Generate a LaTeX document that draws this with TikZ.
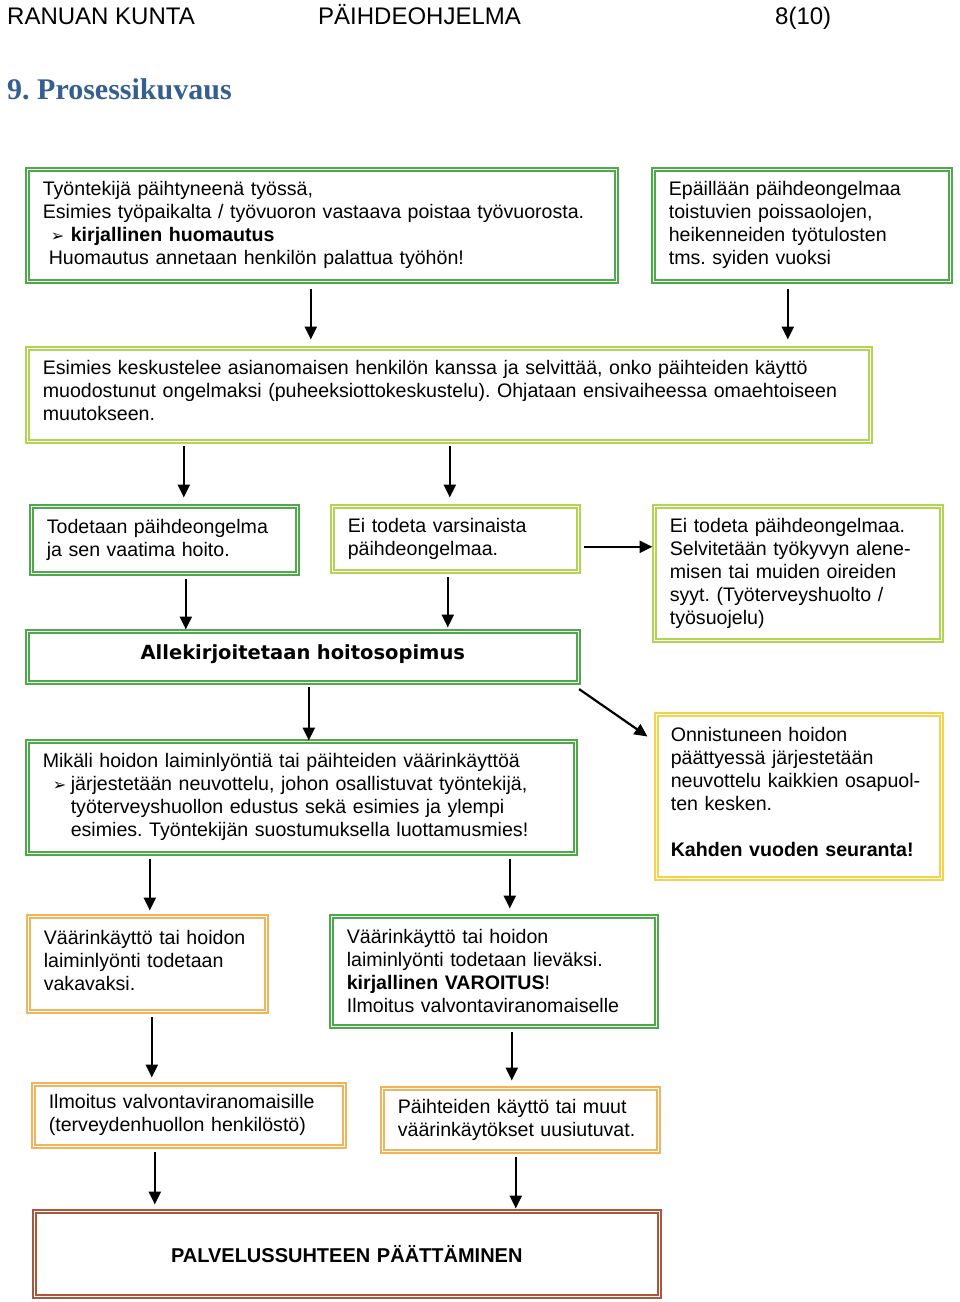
\documentclass[tikz,border=0pt]{standalone}
\usepackage{fontspec}
\setmainfont{Liberation Sans}
\newfontfamily\dingfont{DejaVu Sans}
\newfontfamily\titlefont{Liberation Serif}
\usetikzlibrary{arrows.meta}
\frenchspacing
\hyphenpenalty=10000
\exhyphenpenalty=10000
\definecolor{darkg}{HTML}{4FA84A}
\definecolor{lightg}{HTML}{B3D453}
\definecolor{orangec}{HTML}{F2B35A}
\definecolor{yellowc}{HTML}{F5D348}
\definecolor{brownc}{HTML}{A9583E}
\definecolor{titleblue}{HTML}{365F91}
\newcommand{\pointer}[1]{\makebox[#1][l]{\dingfont\fontsize{16}{16}\selectfont ➢}}
\newcommand{\liftup}[1]{\\[#1]\mbox{}}
\tikzset{
  box/.style={double=white, line width=1.6pt, double distance=1.4pt, anchor=north west,
    inner xsep=15.5pt, inner ysep=0pt, align=left, font=\fontsize{19.6}{23}\selectfont},
  gbox/.style={box, draw=darkg},
  lbox/.style={box, draw=lightg},
  obox/.style={box, draw=orangec},
  ybox/.style={box, draw=yellowc},
  bbox/.style={box, draw=brownc},
  flow/.style={-{Triangle[length=13pt,width=12pt]}, line width=2.2pt},
  headtext/.style={anchor=base west, inner sep=0pt, font=\fontsize{24}{28}\selectfont},
}

\begin{document}
\begin{tikzpicture}[x=1pt, y=-1pt]
\useasboundingbox (0,0) rectangle (960,1302);
\fill[white] (0,0) rectangle (960,1302);
% header
\node[headtext] (kunta) at (7,24) {RANUAN KUNTA};
\node[headtext] (ohjelma) at (318,24) {PÄIHDEOHJELMA};
\node[headtext] (sivu) at (775,24) {8(10)};
\node[anchor=base west, inner sep=0pt, text=titleblue, font=\titlefont\bfseries\fontsize{30}{34}\selectfont] (otsikko) at (7,99) {9. Prosessikuvaus};
% boxes
\node[gbox, minimum width=589pt, minimum height=112pt, text width=558pt] (b1) at (26.5,168.5) {Työntekijä päihtyneenä työssä,\\
Esimies työpaikalta / työvuoron vastaava poistaa työvuorosta.\\
\hspace*{8pt}\pointer{20pt}\textbf{kirjallinen huomautus}\\
\hspace*{6pt}Huomautus annetaan henkilön palattua työhön!};
\node[gbox, minimum width=297pt, minimum height=112pt, text width=266pt] (b2) at (652.5,168.5) {Epäillään päihdeongelmaa\\
toistuvien poissaolojen,\\
heikenneiden työtulosten\\
tms. syiden vuoksi};
\node[lbox, minimum width=843pt, minimum height=93pt, text width=812pt] (b3) at (26.5,347.5) {Esimies keskustelee asianomaisen henkilön kanssa ja selvittää, onko päihteiden käyttö\\
muodostunut ongelmaksi (puheeksiottokeskustelu). Ohjataan ensivaiheessa omaehtoiseen\\
muutokseen.\liftup{-15pt}};
\node[gbox, minimum width=266pt, minimum height=67pt, text width=235pt] (b4) at (30.5,505.5) {Todetaan päihdeongelma\\
ja sen vaatima hoito.};
\node[lbox, minimum width=246pt, minimum height=65pt, text width=215pt] (b5) at (331.5,505.5) {Ei todeta varsinaista\\
päihdeongelmaa.};
\node[lbox, minimum width=287pt, minimum height=134pt, text width=256pt] (b6) at (653.5,505.5) {Ei todeta päihdeongelmaa.\\
Selvitetään työkyvyn alene-\\
misen tai muiden oireiden\\
syyt. (Työterveyshuolto /\\
työsuojelu)};
\node[gbox, align=center, minimum width=551pt, minimum height=51pt, text width=520pt,
  font=\dingfont\bfseries\fontsize{19.5}{23}\selectfont] (b7) at (26.5,630.5) {Allekirjoitetaan hoitosopimus\liftup{-13pt}};
\node[gbox, minimum width=548pt, minimum height=112pt, text width=517pt] (b8) at (26.5,740.5) {Mikäli hoidon laiminlyöntiä tai päihteiden väärinkäyttöä\\
\hspace*{10pt}\pointer{18pt}järjestetään neuvottelu, johon osallistuvat työntekijä,\\
\hspace*{28pt}työterveyshuollon edustus sekä esimies ja ylempi\\
\hspace*{28pt}esimies. Työntekijän suostumuksella luottamusmies!};
\node[ybox, inner xsep=14.5pt, minimum width=285pt, minimum height=164pt, text width=256pt] (b9) at (655.5,713.5) {Onnistuneen hoidon\\
päättyessä järjestetään\\
neuvottelu kaikkien osapuol-\\
ten kesken.\\[23pt]
\textbf{Kahden vuoden seuranta!}\liftup{-15pt}};
\node[obox, minimum width=238pt, minimum height=95pt, text width=207pt] (b10) at (27.5,915.5) {Väärinkäyttö tai hoidon\\
laiminlyönti todetaan\\
vakavaksi.\liftup{-17pt}};
\node[gbox, minimum width=325pt, minimum height=110pt, text width=294pt] (b11) at (330.5,915.5) {Väärinkäyttö tai hoidon\\
laiminlyönti todetaan lieväksi.\\
\textbf{kirjallinen VAROITUS}!\\
Ilmoitus valvontaviranomaiselle};
\node[obox, minimum width=311pt, minimum height=62pt, text width=280pt] (b12) at (32.5,1083.5) {Ilmoitus valvontaviranomaisille\\
(terveydenhuollon henkilöstö)};
\node[obox, minimum width=276pt, minimum height=63pt, text width=245pt] (b13) at (381.5,1087.5) {Päihteiden käyttö tai muut\\
väärinkäytökset uusiutuvat.};
\node[bbox, align=center, minimum width=625pt, minimum height=85pt, text width=594pt,
  font=\bfseries\fontsize{20}{23}\selectfont] (b14) at (33.5,1210.5) {PALVELUSSUHTEEN PÄÄTTÄMINEN};
% connectors
\draw[flow] ([xshift=-11pt,yshift=-7pt]b1.south) coordinate (a1) -- ([yshift=8pt]b3.north -| a1);
\draw[flow] ([xshift=-14pt,yshift=-7pt]b2.south) coordinate (a2) -- ([yshift=8pt]b3.north -| a2);
\draw[flow] ([xshift=-265pt,yshift=-4pt]b3.south) coordinate (a3) -- ([yshift=8pt]b4.north -| a3);
\draw[flow] ([xshift=1pt,yshift=-4pt]b3.south) coordinate (a4) -- ([yshift=8pt]b5.north -| a4);
\draw[flow] ([xshift=5pt,yshift=-8pt]b5.east) coordinate (a5) -- ([xshift=-1pt]b6.west |- a5);
\draw[flow] ([xshift=21.5pt,yshift=-5pt]b4.south) coordinate (a6) -- ([yshift=1pt]b7.north -| a6);
\draw[flow] ([xshift=-7.5pt,yshift=-5pt]b5.south) coordinate (a7) -- ([yshift=3pt]b7.north -| a7);
\draw[flow] ([xshift=6pt,yshift=-4pt]b7.south) coordinate (a8) -- (b8.north -| a8);
\draw[flow] ([yshift=-6pt]b7.south east) -- ([xshift=-8pt,yshift=-23pt]b9.north west);
\draw[flow] ([xshift=-151.5pt,yshift=-5pt]b8.south) coordinate (a9) -- ([yshift=5pt]b10.north -| a9);
\draw[flow] ([xshift=208.5pt,yshift=-5pt]b8.south) coordinate (a10) -- ([yshift=7pt]b11.north -| a10);
\draw[flow] ([xshift=4.5pt,yshift=-5pt]b10.south) coordinate (a11) -- ([yshift=6pt]b12.north -| a11);
\draw[flow] ([xshift=18pt,yshift=-5pt]b11.south) coordinate (a12) -- ([yshift=7pt]b13.north -| a12);
\draw[flow] ([xshift=-34pt,yshift=-5pt]b12.south) coordinate (a13) -- ([yshift=6pt]b14.north -| a13);
\draw[flow] ([xshift=-4.5pt,yshift=-5pt]b13.south) coordinate (a14) -- ([yshift=2pt]b14.north -| a14);
\end{tikzpicture}
\end{document}
